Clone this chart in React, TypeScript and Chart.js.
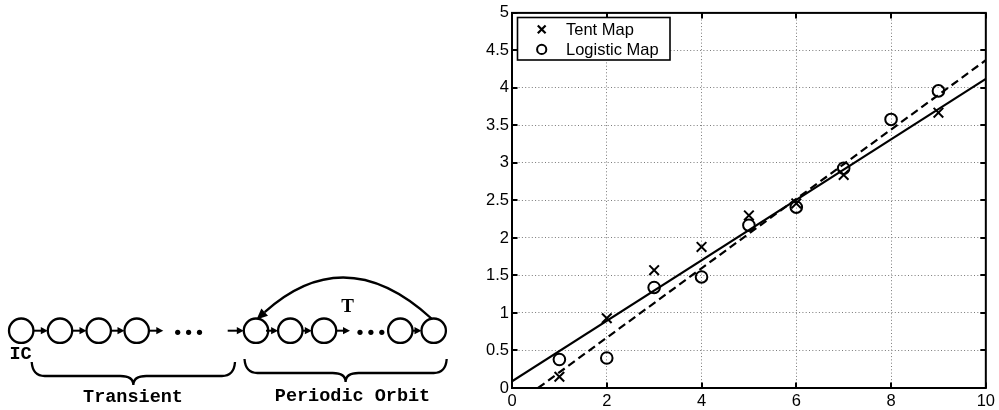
import React, { useEffect, useRef } from "react";
import { Chart, registerables } from "chart.js";

Chart.register(...registerables);

// ---------------- chart data ----------------
const xTickValues = [0, 2, 4, 6, 8, 10];
const yTickValues = [0, 0.5, 1, 1.5, 2, 2.5, 3, 3.5, 4, 4.5, 5];
const tentX = [1, 2, 3, 4, 5, 6, 7, 9];
const tentY = [0.15, 0.93, 1.57, 1.88, 2.3, 2.46, 2.84, 3.67];
const logisticX = [1, 2, 3, 4, 5, 6, 7, 8, 9];
const logisticY = [0.38, 0.4, 1.34, 1.48, 2.17, 2.41, 2.93, 3.58, 3.96];
const tentFitX = [0, 10];
const tentFitY = [0.09, 4.12];
const logisticFitX = [0.55, 10];
const logisticFitY = [0, 4.37];
const seriesNames = ["Tent Map", "Logistic Map"];

// ---------------- diagram text ----------------
const labelIC = "IC";
const labelTransient = "Transient";
const labelPeriodic = "Periodic Orbit";
const labelPeriod = "T";

// diagram geometry
const transientNodes = [21.2, 60, 98.7, 136.7];
const periodicNodes = [256, 290.3, 324, 400.3, 433.7];
const nodeY = 330.7;
const nodeR = 12.2;
const arrowSpans: [number, number][] = [
  [33.4, 47.8],
  [72.2, 86.5],
  [110.9, 124.5],
  [148.9, 163.3],
  [227.7, 243.8],
  [266, 278.1],
  [302.5, 311.8],
  [336.2, 350],
  [412.5, 421.5],
];
const dotXs = [177.7, 188.6, 199.5, 360, 370.9, 381.8];

const SANS = '"Liberation Sans", Arial, Helvetica, sans-serif';
const MONO = '"Liberation Mono", "Courier New", monospace';
const SERIF = '"Liberation Serif", "Times New Roman", serif';

function toPoints(xs: number[], ys: number[]) {
  return xs.map((x, i) => ({ x, y: ys[i] }));
}

function bracePath(x1: number, x2: number, y0: number, h: number, d: number) {
  const xm = (x1 + x2) / 2;
  const r = 13;
  return `M ${x1} ${y0} Q ${x1 + 1} ${y0 + h} ${x1 + r} ${y0 + h} L ${xm - r} ${y0 + h} Q ${xm} ${y0 + h} ${xm} ${y0 + d} Q ${xm} ${y0 + h} ${xm + r} ${y0 + h} L ${x2 - r} ${y0 + h} Q ${x2 - 1} ${y0 + h} ${x2} ${y0}`;
}

function Diagram() {
  const p0 = { x: 432, y: 319 };
  const c = { x: 345.5, y: 239.6 };
  const tip = { x: 256.5, y: 319.5 };
  const dx = tip.x - c.x;
  const dy = tip.y - c.y;
  const len = Math.hypot(dx, dy);
  const ux = dx / len;
  const uy = dy / len;
  const hl = 11;
  const hw = 5;
  const bx = tip.x - ux * hl;
  const by = tip.y - uy * hl;
  const headPts = `${tip.x},${tip.y} ${bx - uy * hw},${by + ux * hw} ${bx + uy * hw},${by - ux * hw}`;

  return (
    <svg
      width={470}
      height={410}
      style={{ position: "absolute", left: 0, top: 0, pointerEvents: "none" }}
    >
      {[...transientNodes, ...periodicNodes].map((cx, i) => (
        <circle key={"n" + i} cx={cx} cy={nodeY} r={nodeR} fill="none" stroke="#000" strokeWidth={2.3} />
      ))}
      {arrowSpans.map(([a, b], i) => (
        <g key={"a" + i}>
          <line x1={a} y1={nodeY} x2={b - 5} y2={nodeY} stroke="#000" strokeWidth={2} />
          <polygon points={`${b},${nodeY} ${b - 7},${nodeY - 3.6} ${b - 7},${nodeY + 3.6}`} fill="#000" />
        </g>
      ))}
      {dotXs.map((x, i) => (
        <circle key={"d" + i} cx={x} cy={332.3} r={2.6} fill="#000" />
      ))}
      <path d={`M ${p0.x} ${p0.y} Q ${c.x} ${c.y} ${bx} ${by}`} fill="none" stroke="#000" strokeWidth={2.3} />
      <polygon points={headPts} fill="#000" />
      <text x={347.5} y={311.7} textAnchor="middle" fontFamily={SERIF} fontWeight="bold" fontSize={19}>
        {labelPeriod}
      </text>
      <text x={9.5} y={359.3} fontFamily={MONO} fontWeight="bold" fontSize={18.5}>
        {labelIC}
      </text>
      <path d={bracePath(31.7, 235, 362, 14, 23)} fill="none" stroke="#000" strokeWidth={2.3} />
      <path d={bracePath(244.5, 446.7, 359, 14, 23)} fill="none" stroke="#000" strokeWidth={2.3} />
      <text x={133} y={401.5} textAnchor="middle" fontFamily={MONO} fontWeight="bold" fontSize={18.5}>
        {labelTransient}
      </text>
      <text x={352.5} y={400.8} textAnchor="middle" fontFamily={MONO} fontWeight="bold" fontSize={18.5}>
        {labelPeriodic}
      </text>
    </svg>
  );
}

const framePlugin = {
  id: "matlabFrame",
  afterDatasetsDraw(chart: any) {
    const { ctx, chartArea: a, scales } = chart;
    const xs = scales.x;
    const ys = scales.y;
    ctx.save();
    ctx.strokeStyle = "#000";
    ctx.lineWidth = 2;
    const tl = 5.5;
    ctx.beginPath();
    xTickValues.forEach((v) => {
      const p = Math.round(xs.getPixelForValue(v));
      ctx.moveTo(p, a.bottom);
      ctx.lineTo(p, a.bottom - tl);
      ctx.moveTo(p, a.top);
      ctx.lineTo(p, a.top + tl);
    });
    yTickValues.forEach((v) => {
      const p = Math.round(ys.getPixelForValue(v));
      ctx.moveTo(a.left, p);
      ctx.lineTo(a.left + tl, p);
      ctx.moveTo(a.right, p);
      ctx.lineTo(a.right - tl, p);
    });
    ctx.stroke();
    ctx.strokeRect(a.left, a.top, a.right - a.left, a.bottom - a.top);

    // legend box
    const lx = 517.5;
    const ly = 17.5;
    const lw = 152.5;
    const lh = 42.5;
    ctx.fillStyle = "#fff";
    ctx.fillRect(lx, ly, lw, lh);
    ctx.lineWidth = 1.6;
    ctx.strokeRect(lx, ly, lw, lh);

    const mx = 541.7;
    ctx.lineWidth = 2.2;
    const s = 3.9;
    ctx.beginPath();
    ctx.moveTo(mx - s, 29.4 - s);
    ctx.lineTo(mx + s, 29.4 + s);
    ctx.moveTo(mx + s, 29.4 - s);
    ctx.lineTo(mx - s, 29.4 + s);
    ctx.stroke();
    ctx.lineWidth = 2;
    ctx.beginPath();
    ctx.arc(mx, 49.4, 4.6, 0, Math.PI * 2);
    ctx.stroke();

    ctx.fillStyle = "#000";
    ctx.font = `16.5px ${SANS}`;
    ctx.textAlign = "left";
    ctx.textBaseline = "alphabetic";
    ctx.fillText(seriesNames[0], 566, 35);
    ctx.fillText(seriesNames[1], 566, 55);
    ctx.restore();
  },
};

export default function App() {
  const ref = useRef<HTMLCanvasElement>(null);

  useEffect(() => {
    if (!ref.current) return;
    const tickFont = { family: SANS, size: 16.5 };
    const chart = new Chart(ref.current, {
      type: "scatter",
      data: {
        datasets: [
          {
            label: seriesNames[0],
            data: toPoints(tentX, tentY),
            showLine: false,
            pointStyle: "crossRot",
            pointRadius: 6.8,
            pointHoverRadius: 6.8,
            borderWidth: 2,
            pointBorderWidth: 2,
            borderColor: "#000",
            backgroundColor: "rgba(0,0,0,0)",
          },
          {
            label: seriesNames[1],
            data: toPoints(logisticX, logisticY),
            showLine: false,
            pointStyle: "circle",
            pointRadius: 5.8,
            pointHoverRadius: 5.8,
            borderWidth: 2,
            pointBorderWidth: 2,
            borderColor: "#000",
            backgroundColor: "rgba(0,0,0,0)",
          },
          {
            label: seriesNames[0] + " fit",
            data: toPoints(tentFitX, tentFitY),
            showLine: true,
            pointRadius: 0,
            borderWidth: 2.2,
            borderColor: "#000",
            backgroundColor: "rgba(0,0,0,0)",
            clip: 0,
          },
          {
            label: seriesNames[1] + " fit",
            data: toPoints(logisticFitX, logisticFitY),
            showLine: true,
            pointRadius: 0,
            borderWidth: 2.2,
            borderDash: [8, 4.5],
            borderColor: "#000",
            backgroundColor: "rgba(0,0,0,0)",
            clip: 0,
          },
        ],
      },
      options: {
        animation: false,
        responsive: false,
        maintainAspectRatio: false,
        devicePixelRatio: 1,
        layout: { padding: { left: 0, top: 12, right: 11, bottom: 0 } },
        plugins: {
          legend: { display: false },
          tooltip: { enabled: false },
        },
        scales: {
          x: {
            type: "linear",
            min: 0,
            max: 10,
            afterBuildTicks: (s: any) => {
              s.ticks = xTickValues.map((v) => ({ value: v }));
            },
            afterFit: (s: any) => {
              s.height = 22;
            },
            grid: { color: "#7a7a7a", lineWidth: 1, drawTicks: false },
            border: { display: false, dash: [1, 2.3] },
            ticks: {
              color: "#000",
              font: tickFont,
              padding: 4,
              maxRotation: 0,
              autoSkip: false,
              callback: (v: any) => String(v),
            },
          },
          y: {
            type: "linear",
            min: 0,
            max: 5,
            afterBuildTicks: (s: any) => {
              s.ticks = yTickValues.map((v) => ({ value: v }));
            },
            afterFit: (s: any) => {
              s.width = 512;
            },
            grid: { color: "#7a7a7a", lineWidth: 1, drawTicks: false },
            border: { display: false, dash: [1, 2.3] },
            ticks: {
              color: "#000",
              font: tickFont,
              padding: 3,
              autoSkip: false,
              callback: (v: any) => String(v),
            },
          },
        },
      },
      plugins: [framePlugin],
    } as any);
    return () => chart.destroy();
  }, []);

  return (
    <div
      style={{
        position: "fixed",
        left: 0,
        top: 0,
        width: 999,
        height: 410,
        background: "#fff",
        overflow: "hidden",
      }}
    >
      <canvas
        ref={ref}
        width={999}
        height={410}
        style={{ position: "absolute", left: 0, top: 0, width: 999, height: 410 }}
      />
      <Diagram />
    </div>
  );
}
